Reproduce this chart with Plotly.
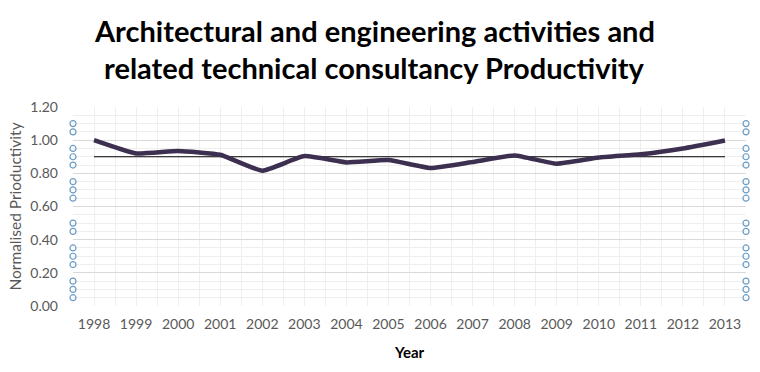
import plotly.graph_objects as go

years = list(range(1998, 2014))
productivity = [1.00, 0.92, 0.935, 0.912, 0.816, 0.904, 0.866, 0.88, 0.832, 0.868,
                0.908, 0.858, 0.895, 0.915, 0.95, 0.998]
reference = [0.90] * len(years)
marker_levels = [1.10, 1.05, 0.95, 0.90, 0.85, 0.75, 0.70, 0.65, 0.50, 0.45,
                 0.35, 0.30, 0.25, 0.15, 0.10, 0.05]
title_lines = ["Architectural and engineering activities and",
               "related technical consultancy Productivity"]

W, H = 760, 372
L, R, T, B = 73, 14, 107, 66

fig = go.Figure()
fig.add_trace(go.Scatter(x=years, y=reference, mode="lines",
                         line=dict(color="black", width=1.2), hoverinfo="skip"))
fig.add_trace(go.Scatter(x=years, y=productivity, mode="lines",
                         line=dict(color="#3d2f4f", width=4.5, shape="spline", smoothing=0.4)))
for xe in (1997.5, 2013.5):
    fig.add_trace(go.Scatter(x=[xe] * len(marker_levels), y=marker_levels, mode="markers",
                             marker=dict(symbol="circle-open", size=6, color="#6b9cc6",
                                         line=dict(width=1.2)), cliponaxis=False))

fig.update_layout(
    width=W, height=H, margin=dict(l=L, r=R, t=T, b=B, autoexpand=False),
    paper_bgcolor="white", plot_bgcolor="white", showlegend=False,
    font=dict(family="Lato, Calibri, sans-serif", color="#595959"),
)
fig.update_xaxes(
    automargin=False,
    range=[1997.5, 2013.5], tickmode="array", tickvals=years,
    ticktext=[str(y) for y in years], tickfont=dict(size=14, color="#595959"),
    showgrid=True, gridcolor="#efefef", gridwidth=1,
    minor=dict(dtick=0.5, tick0=1997.5, showgrid=True, gridcolor="#efefef", gridwidth=1),
    zeroline=False, showline=False, ticks="", ticklabelstandoff=8,
    title=dict(text="<b>Year</b>", font=dict(size=15, color="black"), standoff=16),
)
fig.update_yaxes(
    automargin=False,
    range=[0, 1.2], dtick=0.2, tickformat=".2f",
    tickfont=dict(size=14, color="#595959"),
    showgrid=True, gridcolor="#d9d9d9", gridwidth=1,
    minor=dict(dtick=0.05, showgrid=True, gridcolor="#efefef", gridwidth=1),
    zeroline=False, showline=False, ticks="", ticklabelstandoff=14,
    title=dict(text="Normalised Prioductivity", font=dict(size=15.5, color="#595959"), standoff=4),
)

cx = (374 - L) / (W - L - R)
for i, line in enumerate(title_lines):
    fig.add_annotation(text="<b>" + line + "</b>", xref="paper", yref="paper",
                       x=cx, y=1 + (T - (30 + 37 * i)) / (H - T - B),
                       xanchor="center", yanchor="middle", showarrow=False,
                       font=dict(size=29, color="black", family="Lato, Calibri, sans-serif"))

fig.write_html("out.html", config={"displayModeBar": False},
               post_script="document.body.style.margin='0';document.body.style.padding='0';")
